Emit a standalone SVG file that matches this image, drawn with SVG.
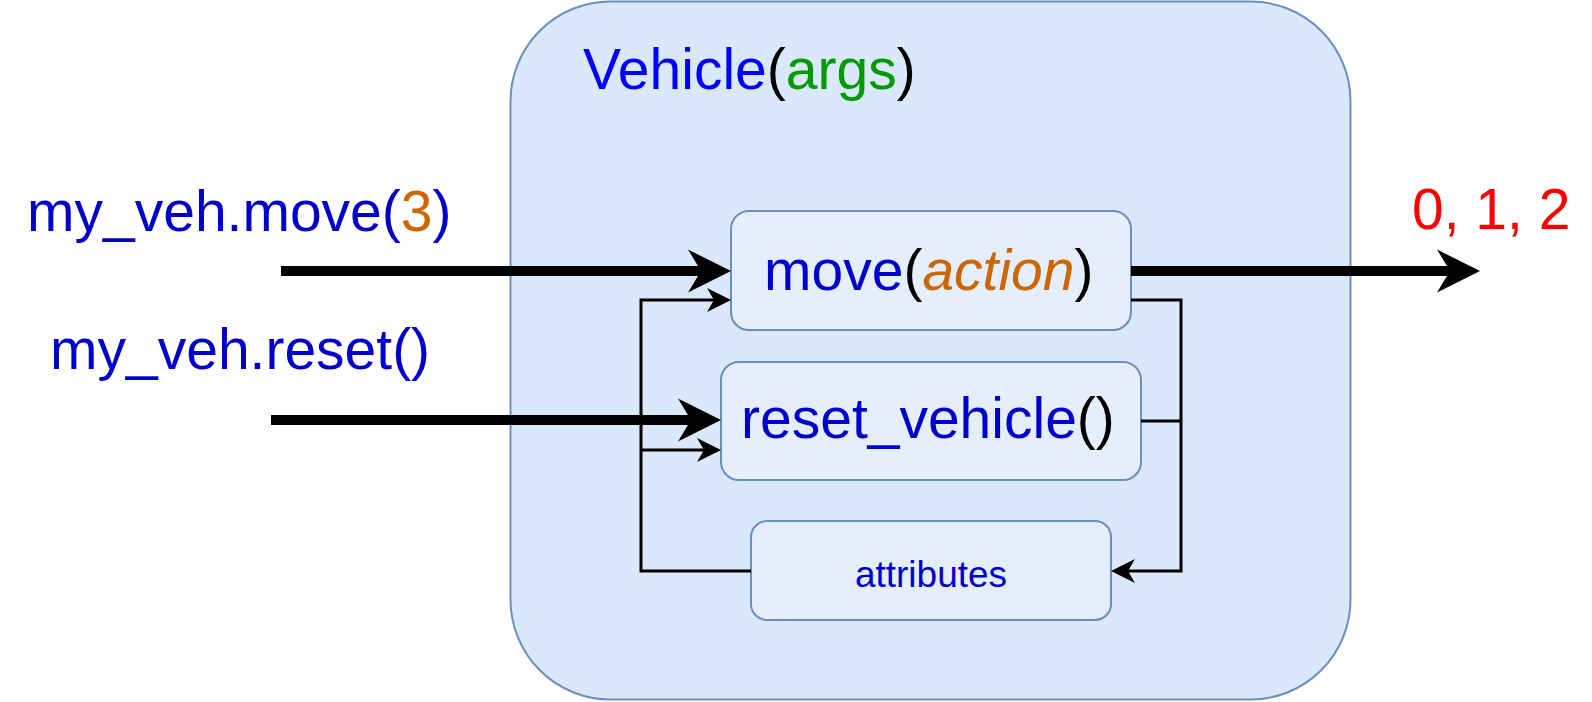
<svg xmlns="http://www.w3.org/2000/svg" width="1592" height="702" viewBox="0 0 1592 702">
<style>
  text { font-family: "Liberation Sans", Arial, sans-serif; }
  .box { fill: #e4eefc; stroke: #6c8ebf; stroke-width: 2; }
  .cont { fill: #dae8fc; stroke: #6c8ebf; stroke-width: 2; }
  .thick { fill: none; stroke: #000; stroke-width: 10; }
  .thin { fill: none; stroke: #000; stroke-width: 3; }
  .blue { fill: #0000cc; }
  .orange { fill: #cc6600; }
  .blk { fill: #000; }
</style>
<defs>
  <marker id="big" markerUnits="userSpaceOnUse" markerWidth="44" markerHeight="44" viewBox="0 -22 44 44" refX="13" refY="0" orient="auto" overflow="visible">
    <path d="M0,-21.5 L43,0 L0,21.5 L13,0 Z" fill="#000"/>
  </marker>
  <marker id="small" markerUnits="userSpaceOnUse" markerWidth="26" markerHeight="26" viewBox="0 -13 26 26" refX="7" refY="0" orient="auto" overflow="visible">
    <path d="M0,-12 L24,0 L0,12 L7,0 Z" fill="#000"/>
  </marker>
</defs>
<rect width="1592" height="702" fill="#ffffff"/>

<g id="vehicle">
  <rect class="cont" x="510.5" y="1.5" width="840" height="698" rx="100" ry="100"/>
  <text x="583" y="89" font-size="57"><tspan fill="#0000ff">Vehicle</tspan><tspan fill="#000">(</tspan><tspan fill="#009900">args</tspan><tspan fill="#000">)</tspan></text>
</g>

<g id="move">
  <rect class="box" x="731" y="211" width="400" height="119" rx="18" ry="18"/>
  <text x="764" y="290" font-size="57"><tspan class="blue">move</tspan><tspan class="blk">(</tspan><tspan class="orange" font-style="italic">action</tspan><tspan class="blk">)</tspan></text>
</g>

<g id="reset_vehicle">
  <rect class="box" x="721" y="362" width="420" height="118" rx="18" ry="18"/>
  <text x="741" y="438" font-size="57"><tspan class="blue">reset_vehicle</tspan><tspan class="blk">()</tspan></text>
</g>

<g id="attributes">
  <rect class="box" x="751" y="521" width="360" height="99" rx="16" ry="16"/>
  <text x="931" y="587" font-size="37" text-anchor="middle" class="blue">attributes</text>
</g>

<g id="labels">
  <text x="27" y="231" font-size="57"><tspan class="blue">my_veh.move(</tspan><tspan class="orange">3</tspan><tspan class="blue">)</tspan></text>
  <text x="50" y="369" font-size="57" class="blue">my_veh.reset()</text>
  <text x="1412" y="229" font-size="57" fill="#ff0000">0, 1, 2</text>
</g>

<g id="connectors">
  <path class="thin" d="M751,571 H641 V300 H714" marker-end="url(#small)"/>
  <path class="thin" d="M641,450 H704" marker-end="url(#small)"/>
  <path class="thin" d="M1131,300 H1181 V571 H1128" marker-end="url(#small)"/>
  <path class="thin" d="M1141,421 H1181"/>
  <path class="thick" d="M281,271 H701" marker-end="url(#big)"/>
  <path class="thick" d="M271,420 H691" marker-end="url(#big)"/>
  <path class="thick" d="M1131,271 H1450" marker-end="url(#big)"/>
</g>
</svg>
